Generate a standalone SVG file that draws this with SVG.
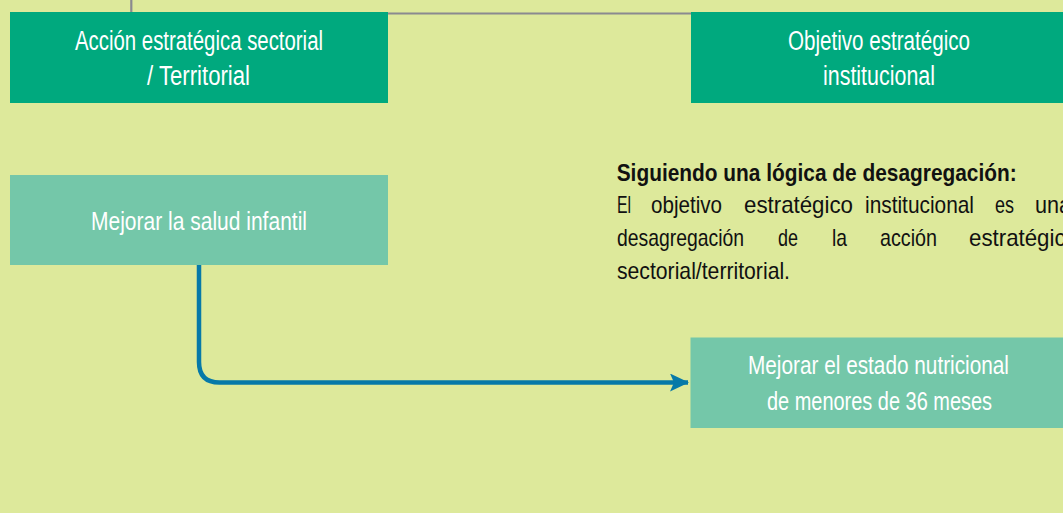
<svg xmlns="http://www.w3.org/2000/svg" width="1063" height="513" viewBox="0 0 1063 513">
  <defs>
    <style>
      .bg { fill: #DDE99B; }
      .dark { fill: #00A97E; }
      .light { fill: #74C7A9; }
      .lbl { font-family: "Liberation Sans", Arial, sans-serif; fill: #FFFFFF; text-anchor: middle; }
      .big { font-size: 27px; }
      .mid { font-size: 25px; }
      .body { font-family: "Liberation Sans", Arial, sans-serif; font-size: 24px; fill: #111111; }
      .head { font-weight: bold; }
      .guide { fill: none; stroke: #8A8A90; stroke-width: 2.2; }
      .flow { fill: none; stroke: #0679A8; stroke-width: 4.5; }
    </style>
    <marker id="arrow" viewBox="0 0 20 18" refX="18" refY="9" markerWidth="20" markerHeight="18" markerUnits="userSpaceOnUse" orient="auto">
      <path d="M0,0 L19,9 L0,18 L4,9 Z" fill="#0679A8"/>
    </marker>
  </defs>

  <rect class="bg" x="0" y="0" width="1063" height="513"/>

  <g id="connectors">
    <path class="guide" d="M131.3,0 V13.5 H700"/>
    <path class="flow" d="M199,265 V362 Q199,382.5 219.5,382.5 H688" marker-end="url(#arrow)"/>
  </g>

  <g id="node-accion-estrategica">
    <rect class="dark" x="10" y="12" width="378" height="91"/>
    <text class="lbl big" x="199" y="50" textLength="248" lengthAdjust="spacingAndGlyphs">Acción estratégica sectorial</text>
    <text class="lbl big" x="198.5" y="85" textLength="103" lengthAdjust="spacingAndGlyphs">/ Territorial</text>
  </g>

  <g id="node-objetivo-estrategico">
    <rect class="dark" x="691" y="12" width="380" height="91"/>
    <text class="lbl big" x="879" y="50" textLength="182" lengthAdjust="spacingAndGlyphs">Objetivo estratégico</text>
    <text class="lbl big" x="879" y="85" textLength="112" lengthAdjust="spacingAndGlyphs">institucional</text>
  </g>

  <g id="node-salud-infantil">
    <rect class="light" x="10" y="175" width="378" height="90"/>
    <text class="lbl mid" x="199" y="230" textLength="216" lengthAdjust="spacingAndGlyphs">Mejorar la salud infantil</text>
  </g>

  <g id="node-estado-nutricional">
    <rect class="light" x="690.5" y="337.5" width="380" height="90.5"/>
    <text class="lbl mid" x="878.5" y="374" textLength="261" lengthAdjust="spacingAndGlyphs">Mejorar el estado nutricional</text>
    <text class="lbl mid" x="879.5" y="410" textLength="225" lengthAdjust="spacingAndGlyphs">de menores de 36 meses</text>
  </g>

  <g id="note">
    <text class="body head" x="616.7" y="180.5" textLength="400" lengthAdjust="spacingAndGlyphs">Siguiendo una lógica de desagregación:</text>
    <text class="body" y="213.3"><tspan x="617" textLength="14" lengthAdjust="spacingAndGlyphs">El</tspan> <tspan x="651" textLength="71" lengthAdjust="spacingAndGlyphs">objetivo</tspan> <tspan x="744" textLength="109" lengthAdjust="spacingAndGlyphs">estratégico</tspan> <tspan x="865" textLength="109" lengthAdjust="spacingAndGlyphs">institucional</tspan> <tspan x="995" textLength="19" lengthAdjust="spacingAndGlyphs">es</tspan> <tspan x="1035" textLength="36" lengthAdjust="spacingAndGlyphs">una</tspan></text>
    <text class="body" y="246"><tspan x="617" textLength="127" lengthAdjust="spacingAndGlyphs">desagregación</tspan> <tspan x="778" textLength="20" lengthAdjust="spacingAndGlyphs">de</tspan> <tspan x="832" textLength="15" lengthAdjust="spacingAndGlyphs">la</tspan> <tspan x="880" textLength="57" lengthAdjust="spacingAndGlyphs">acción</tspan> <tspan x="969" textLength="109" lengthAdjust="spacingAndGlyphs">estratégica</tspan></text>
    <text class="body" x="617" y="278.5" textLength="173" lengthAdjust="spacingAndGlyphs">sectorial/territorial.</text>
  </g>
</svg>
